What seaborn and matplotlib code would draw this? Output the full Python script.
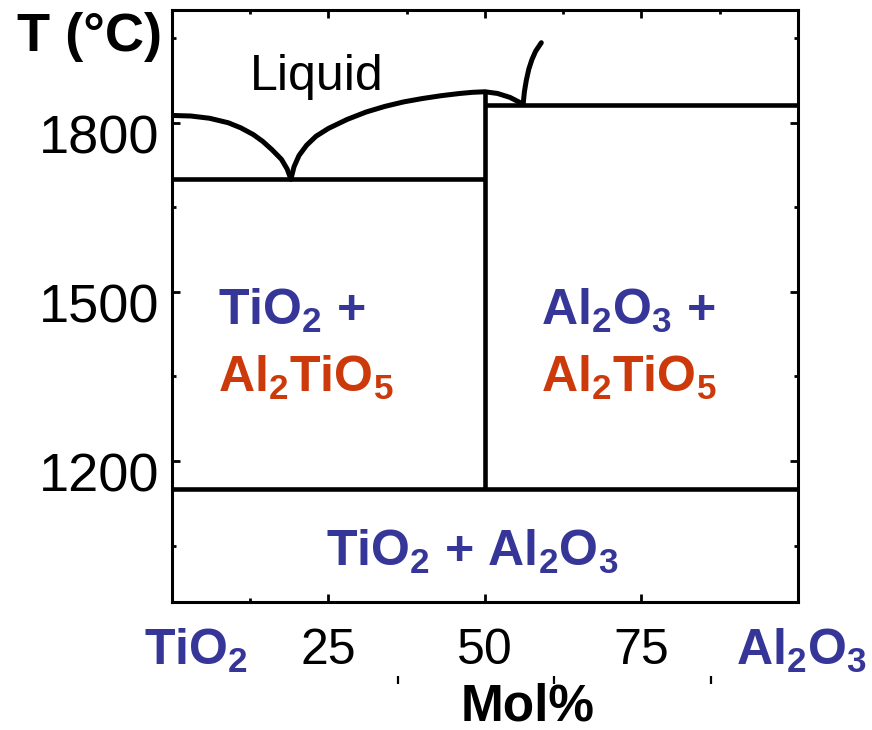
import numpy as np
import pandas as pd
import seaborn as sns
import matplotlib.pyplot as plt
from matplotlib import transforms

sns.set_theme(style="ticks")
plt.rcParams["font.family"] = ["Liberation Sans", "DejaVu Sans"]
plt.rcParams["mathtext.fontset"] = "custom"
plt.rcParams["mathtext.rm"] = "Liberation Sans"
plt.rcParams["mathtext.bf"] = "Liberation Sans:bold"
plt.rcParams["mathtext.it"] = "Liberation Sans:italic"
for key in ("text.color", "axes.labelcolor", "xtick.color", "ytick.color",
            "axes.edgecolor"):
    plt.rcParams[key] = "black"

# --- phase boundaries: composition (mol% Al2O3) vs temperature (°C) ---
liq_left_x = [0, 3, 6, 9, 11, 13, 14.5, 16, 17.5, 18.4, 19.0]
liq_left_t = [1813, 1812, 1808, 1800, 1791, 1779, 1767, 1752, 1735, 1718, 1700]

liq_mid_x = [19.0, 19.5, 20.3, 21.5, 23, 25, 28, 31, 34, 37, 40, 43, 46, 48, 50,
             52, 54, 56.1]
liq_mid_t = [1700, 1722, 1742, 1760, 1776, 1790, 1806, 1819, 1829, 1837, 1843,
             1848, 1852, 1854, 1855, 1852, 1845, 1833]

liq_right_x = [56.1, 56.3, 56.6, 57.0, 57.5, 58.1, 59.0]
liq_right_t = [1833, 1855, 1875, 1895, 1912, 1927, 1942]

eutectic_left_t = 1700      # TiO2 + Al2TiO5 eutectic
eutectic_right_t = 1832     # Al2TiO5 + Al2O3 eutectic
decomposition_t = 1150      # Al2TiO5 decomposition
compound_x = 50             # Al2TiO5 composition
compound_melt_t = 1855

# --- axes ---
x_major = [25, 50, 75]
x_major_labels = ["25", "50", "75"]
x_minor = [12.5, 37.5, 62.5, 87.5]
y_major = [1200, 1500, 1800]
y_major_labels = ["1200", "1500", "1800"]
y_minor = [1050, 1350, 1650, 1950]

BLUE = "#363699"
RED = "#cc3a0b"
LW_CURVE = 3.6
LW_LINE = 3.3

fig = plt.figure(figsize=(8.72, 7.30), dpi=100)
ax = fig.add_axes([0.1972, 0.1753, 0.7179, 0.8110])

def boundary(x, t, lw=LW_LINE, cap="butt"):
    df = pd.DataFrame({"x": x, "t": t})
    sns.lineplot(data=df, x="x", y="t", sort=False, estimator=None,
                 color="black", linewidth=lw, ax=ax, solid_capstyle=cap)

boundary(liq_left_x, liq_left_t, LW_CURVE, "round")
boundary(liq_mid_x, liq_mid_t, LW_CURVE, "round")
boundary(liq_right_x, liq_right_t, LW_CURVE, "round")
boundary([0, compound_x], [eutectic_left_t, eutectic_left_t])
boundary([compound_x, 100], [eutectic_right_t, eutectic_right_t])
boundary([0, 100], [decomposition_t, decomposition_t])
boundary([compound_x, compound_x], [decomposition_t, compound_melt_t])

ax.set_xlim(0, 100)
ax.set_ylim(950, 2000)
ax.set_xlabel("")
ax.set_ylabel("")

for s in ax.spines.values():
    s.set_linewidth(2.2)
    s.set_color("black")

ax.set_xticks(x_major, x_major_labels)
ax.set_xticks(x_minor, minor=True)
ax.set_yticks(y_major, y_major_labels)
ax.set_yticks(y_minor, minor=True)
ax.tick_params(which="both", direction="in", top=True, right=True,
               color="black", labelcolor="black", width=2.0)
ax.tick_params(which="major", length=6)
ax.tick_params(which="minor", length=3)
ax.tick_params(axis="x", which="major", labelsize=36, pad=19)
ax.tick_params(axis="y", which="major", labelsize=39, pad=9)

# bottom minor ticks only at the first position
for tk in ax.xaxis.get_minor_ticks()[1:]:
    tk.tick1line.set_visible(False)

# y tick labels sit slightly below their ticks
shift = transforms.ScaledTranslation(0, -11 / 100, fig.dpi_scale_trans)
for lab in ax.get_yticklabels():
    lab.set_transform(lab.get_transform() + shift)

# small stray marks under the axis
blend = transforms.blended_transform_factory(ax.transData, ax.transAxes)
for xm in x_minor[1:]:
    ax.plot([xm - 1.4, xm - 1.4], [-0.125, -0.138], transform=blend,
            color="black", lw=1.6, clip_on=False, solid_capstyle="butt")

# axis end members and titles
ax.text(3.8, -0.082, r"$\mathbf{TiO_2}$", transform=blend, color=BLUE,
        fontsize=36, ha="center", va="center")
ax.text(100.5, -0.082, r"$\mathbf{Al_2O_3}$", transform=blend, color=BLUE,
        fontsize=36, ha="center", va="center")
fig.text(528 / 872, 1 - 707 / 730, "Mol%", fontsize=37, fontweight="bold",
         ha="center", va="center", color="black")
fig.text(162 / 872, 1 - 37 / 730, "T (°C)", fontsize=39, fontweight="bold",
         ha="right", va="center", color="black")

# phase field labels
ax.text(12.5, 1858, "Liquid", fontsize=36, ha="left", va="baseline",
        color="black")
ax.text(7.4, 1442, r"$\mathbf{TiO_2}$ +", color=BLUE, fontsize=36,
        fontweight="bold", ha="left", va="baseline")
ax.text(7.4, 1322, r"$\mathbf{Al_2TiO_5}$", color=RED, fontsize=36,
        ha="left", va="baseline")
ax.text(58.9, 1442, r"$\mathbf{Al_2O_3}$ +", color=BLUE, fontsize=36,
        fontweight="bold", ha="left", va="baseline")
ax.text(58.9, 1322, r"$\mathbf{Al_2TiO_5}$", color=RED, fontsize=36,
        ha="left", va="baseline")
ax.text(47.9, 1014, r"$\mathbf{TiO_2}$ + $\mathbf{Al_2O_3}$", color=BLUE,
        fontsize=36, fontweight="bold", ha="center", va="baseline")

fig.savefig("out.png", dpi=100)
